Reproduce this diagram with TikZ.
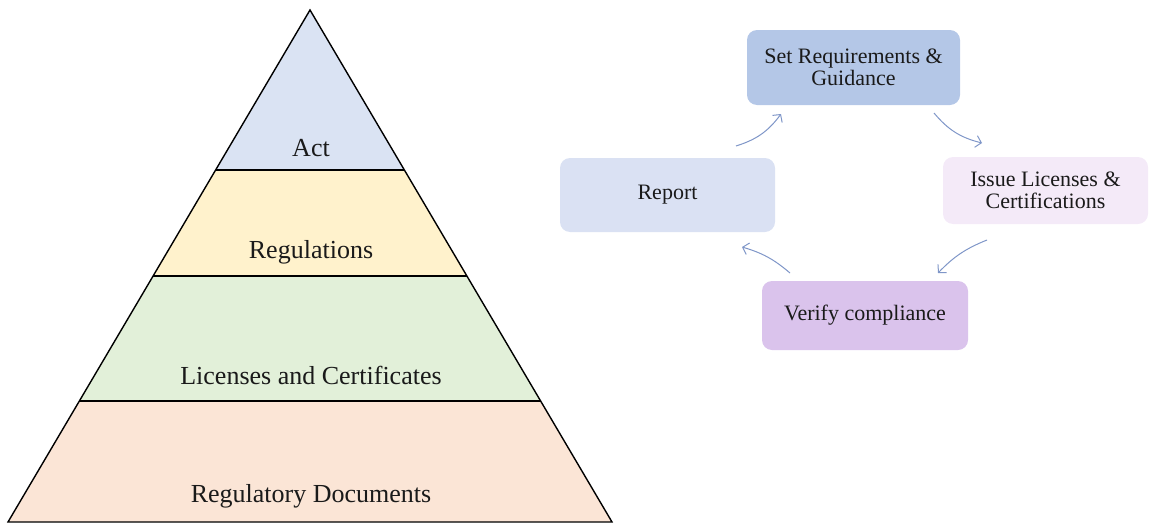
\documentclass[tikz,border=0pt]{standalone}
\usepackage{fontspec}
\setmainfont{Liberation Serif}
\usetikzlibrary{arrows.meta,calc}
\definecolor{actc}{HTML}{DAE3F3}
\definecolor{regc}{HTML}{FFF2CC}
\definecolor{licc}{HTML}{E2F0D9}
\definecolor{docc}{HTML}{FBE5D6}
\definecolor{setc}{HTML}{B4C7E7}
\definecolor{repc}{HTML}{DAE1F3}
\definecolor{issc}{HTML}{F4EAF8}
\definecolor{verc}{HTML}{DAC3EC}
\definecolor{arrc}{HTML}{7F96C8}
\definecolor{txt}{HTML}{1A1A1A}
\tikzset{
  band/.style={draw=black, line width=1.4pt, line join=miter},
  lvl/.style={font=\fontsize{26}{30}\selectfont, text=txt, inner sep=0pt},
  cbox/.style={rounded corners=10pt, inner sep=0pt, align=center, text=txt,
    font=\fontsize{22}{22.5}\selectfont},
  cyc/.style={draw=arrc, line width=1pt, -{Straight Barb[length=5.5pt,width=12pt]}}
}
\begin{document}
\begin{tikzpicture}[x=1pt,y=-1pt]
\useasboundingbox (0,0) rectangle (1152,525);
% pyramid
\coordinate (apex) at (310,10);
\coordinate (bl) at (8,522);
\coordinate (br) at (612,522);
\coordinate (l1) at ($(apex)!0.3125!(bl)$);
\coordinate (r1) at ($(apex)!0.3125!(br)$);
\coordinate (l2) at ($(apex)!0.5195!(bl)$);
\coordinate (r2) at ($(apex)!0.5195!(br)$);
\coordinate (l3) at ($(apex)!0.7637!(bl)$);
\coordinate (r3) at ($(apex)!0.7637!(br)$);
\fill[docc] (l3) -- (r3) -- (br) -- (bl) -- cycle;
\fill[licc] (l2) -- (r2) -- (r3) -- (l3) -- cycle;
\fill[regc] (l1) -- (r1) -- (r2) -- (l2) -- cycle;
\fill[actc] (apex) -- (r1) -- (l1) -- cycle;
\draw[band] (apex) -- (br) -- (bl) -- cycle;
\draw[band] (l1) -- (r1);
\draw[band] (l2) -- (r2);
\draw[band] (l3) -- (r3);
\node[lvl] (act) at (311,148) {Act};
\node[lvl] (regs) at (311,252) {Regulations};
\node[lvl] (lic) at (311,375) {Licenses and Certificates};
\node[lvl] (docs) at (311,496) {Regulatory Documents};
% cycle
\node[cbox, fill=setc, minimum width=213pt, minimum height=75pt] (set) at (853.5,67.5)
  {Set Requirements \&\\Guidance};
\node[cbox, fill=issc, minimum width=205pt, minimum height=67pt] (issue) at (1045.5,190.5)
  {Issue Licenses \&\\Certifications};
\node[cbox, fill=verc, minimum width=206pt, minimum height=69pt] (verify) at (865,315.5)
  {Verify compliance};
\node[cbox, fill=repc, minimum width=215pt, minimum height=74pt] (report) at (667.5,195)
  {Report};
\coordinate (a1s) at (736,146);
\coordinate (a1e) at (781,114);
\coordinate (a2s) at (934,113);
\coordinate (a2e) at (982,143);
\coordinate (a3s) at (987,240);
\coordinate (a3e) at (938,273);
\coordinate (a4s) at (790,273);
\coordinate (a4e) at (742,247);
\draw[cyc] (a1s) to[bend right=18] (a1e);
\draw[cyc] (a2s) to[bend right=18] (a2e);
\draw[cyc] (a3s) to[bend right=12] (a3e);
\draw[cyc] (a4s) to[bend right=12] (a4e);
\end{tikzpicture}
\end{document}
